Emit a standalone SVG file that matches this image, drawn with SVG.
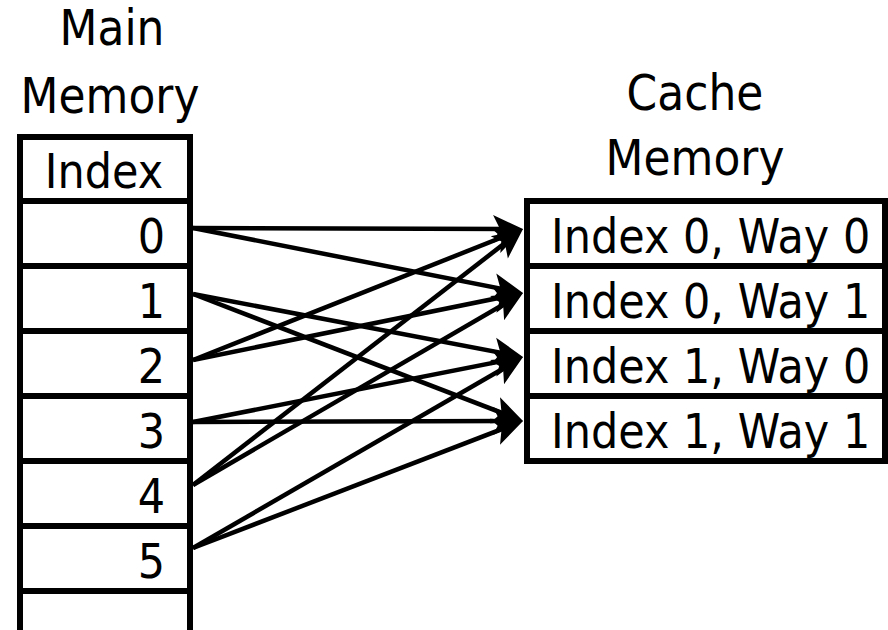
<svg xmlns="http://www.w3.org/2000/svg" width="888" height="630" viewBox="0 0 888 630">
  <style>
    .lbl { font-family: "DejaVu Sans", "Liberation Sans", sans-serif; font-size: 43px; fill: #000; }
    .title { font-size: 44px; }
    .mid { text-anchor: middle; }
    .end { text-anchor: end; }
    .box { fill: #fff; stroke: #000; stroke-width: 6; }
    .rule { stroke: #000; stroke-width: 6; fill: none; }
    .wire { stroke: #000; stroke-width: 4.5; fill: none; marker-end: url(#head); }
  </style>
  <defs>
    <marker id="head" markerUnits="userSpaceOnUse" viewBox="-2 -18 36 36" refX="18" refY="0"
            markerWidth="36" markerHeight="36" orient="auto" overflow="visible">
      <path d="M-2,-14 L28,0 L-2,14 L5,0 Z" fill="#000"/>
    </marker>
  </defs>

  <rect width="888" height="630" fill="#fff"/>

  <!-- column headings -->
  <g id="main-title">
    <text class="lbl title mid" transform="translate(112,45) scale(1,1.12)">Main</text>
    <text class="lbl title mid" transform="translate(110,113) scale(1,1.12)">Memory</text>
  </g>
  <g id="cache-title">
    <text class="lbl title mid" transform="translate(695,110) scale(1,1.12)">Cache</text>
    <text class="lbl title mid" transform="translate(695,175) scale(1,1.12)">Memory</text>
  </g>

  <!-- main memory table: open at the bottom -->
  <g id="main-memory">
    <path class="rule" d="M20,630 V137 H190 V630"/>
    <path class="rule" d="M20,201 H190 M20,266 H190 M20,331 H190 M20,396 H190 M20,461 H190 M20,526 H190 M20,591 H190"/>
  </g>
  <g id="mm-header">
    <text class="lbl mid" transform="translate(104,188) scale(1,1.12)">Index</text>
  </g>
  <g id="mm-0"><text class="lbl end" transform="translate(165,253) scale(1,1.12)">0</text></g>
  <g id="mm-1"><text class="lbl end" transform="translate(165,318) scale(1,1.12)">1</text></g>
  <g id="mm-2"><text class="lbl end" transform="translate(165,383) scale(1,1.12)">2</text></g>
  <g id="mm-3"><text class="lbl end" transform="translate(165,448) scale(1,1.12)">3</text></g>
  <g id="mm-4"><text class="lbl end" transform="translate(165,513) scale(1,1.12)">4</text></g>
  <g id="mm-5"><text class="lbl end" transform="translate(165,578) scale(1,1.12)">5</text></g>

  <!-- cache memory: four lines, two ways per index -->
  <g id="cache-0-0">
    <rect class="box" x="527" y="201" width="358" height="65"/>
    <text class="lbl" transform="translate(551,253) scale(1,1.12)">Index 0, Way 0</text>
  </g>
  <g id="cache-0-1">
    <rect class="box" x="527" y="266" width="358" height="65"/>
    <text class="lbl" transform="translate(551,318) scale(1,1.12)">Index 0, Way 1</text>
  </g>
  <g id="cache-1-0">
    <rect class="box" x="527" y="331" width="358" height="65"/>
    <text class="lbl" transform="translate(551,383) scale(1,1.12)">Index 1, Way 0</text>
  </g>
  <g id="cache-1-1">
    <rect class="box" x="527" y="396" width="358" height="65"/>
    <text class="lbl" transform="translate(551,448) scale(1,1.12)">Index 1, Way 1</text>
  </g>

  <!-- placement: even blocks go to index 0, odd blocks to index 1 -->
  <g id="connectors">
    <line class="wire" x1="193" y1="228" x2="513" y2="228.97"/>
    <line class="wire" x1="193" y1="228" x2="513.19" y2="291.07"/>
    <line class="wire" x1="193" y1="294" x2="513.18" y2="355.13"/>
    <line class="wire" x1="193" y1="294" x2="513.67" y2="417.41"/>
    <line class="wire" x1="193" y1="360" x2="513.71" y2="232.69"/>
    <line class="wire" x1="193" y1="360" x2="513.2" y2="294.99"/>
    <line class="wire" x1="193" y1="422" x2="513.19" y2="358.93"/>
    <line class="wire" x1="193" y1="422" x2="513" y2="421.03"/>
    <line class="wire" x1="193" y1="485" x2="515.1" y2="235.13"/>
    <line class="wire" x1="193" y1="485" x2="514.36" y2="298.03"/>
    <line class="wire" x1="193" y1="548" x2="514.35" y2="362.01"/>
    <line class="wire" x1="193" y1="548" x2="513.67" y2="424.59"/>
  </g>
</svg>
